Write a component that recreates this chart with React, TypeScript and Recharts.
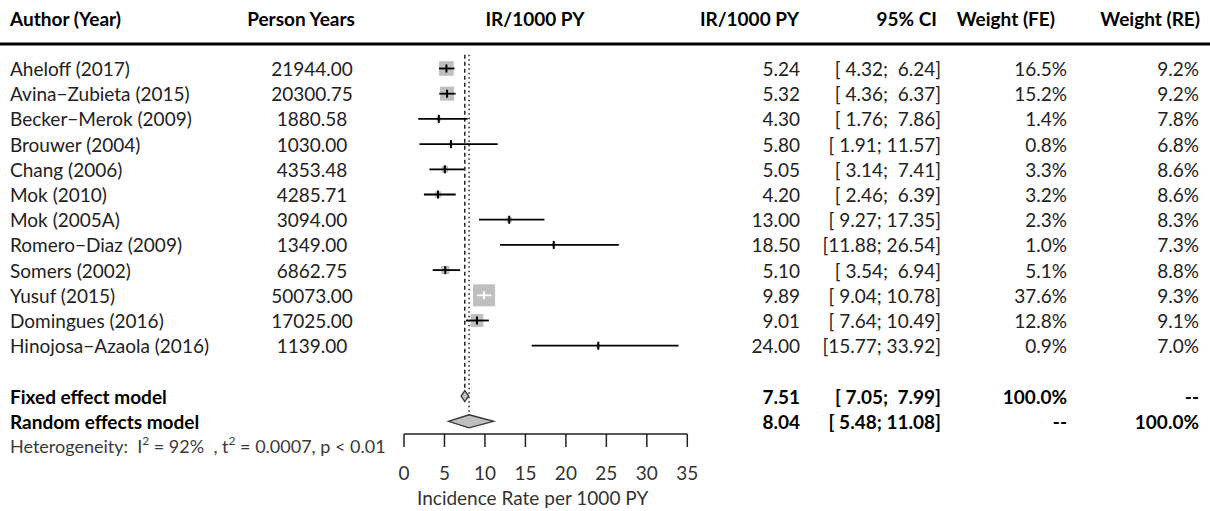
import React from 'react';
import {
  ComposedChart,
  Scatter,
  XAxis,
  YAxis,
  ReferenceLine,
  Customized
} from 'recharts';

// study table
const studies = [
  'Aheloff (2017)',
  'Avina\u2212Zubieta (2015)',
  'Becker\u2212Merok (2009)',
  'Brouwer (2004)',
  'Chang (2006)',
  'Mok (2010)',
  'Mok (2005A)',
  'Romero\u2212Diaz (2009)',
  'Somers (2002)',
  'Yusuf (2015)',
  'Domingues (2016)',
  'Hinojosa\u2212Azaola (2016)'
];
const personYears = [21944.0, 20300.75, 1880.58, 1030.0, 4353.48, 4285.71, 3094.0, 1349.0, 6862.75, 50073.0, 17025.0, 1139.0];
const rate = [5.24, 5.32, 4.3, 5.8, 5.05, 4.2, 13.0, 18.5, 5.1, 9.89, 9.01, 24.0];
const ciLow = [4.32, 4.36, 1.76, 1.91, 3.14, 2.46, 9.27, 11.88, 3.54, 9.04, 7.64, 15.77];
const ciHigh = [6.24, 6.37, 7.86, 11.57, 7.41, 6.39, 17.35, 26.54, 6.94, 10.78, 10.49, 33.92];
const weightFE = [16.5, 15.2, 1.4, 0.8, 3.3, 3.2, 2.3, 1.0, 5.1, 37.6, 12.8, 0.9];
const weightRE = [9.2, 9.2, 7.8, 6.8, 8.6, 8.6, 8.3, 7.3, 8.8, 9.3, 9.1, 7.0];

// pooled estimates
const modelNames = ['Fixed effect model', 'Random effects model'];
const modelRate = [7.51, 8.04];
const modelLow = [7.05, 5.48];
const modelHigh = [7.99, 11.08];
const modelWeightFE = ['100.0%', '--'];
const modelWeightRE = ['--', '100.0%'];

const heteroI2 = '92%';
const heteroTau2 = '0.0007';
const heteroP = '< 0.01';

const xTicks = [0, 5, 10, 15, 20, 25, 30, 35];
const xLabel = 'Incidence Rate per 1000 PY';
const headers = ['Author (Year)', 'Person Years', 'IR/1000 PY', 'IR/1000 PY', '95% CI', 'Weight (FE)', 'Weight (RE)'];

// layout
const FONT = 'Lato, "Open Sans", sans-serif';
const W = 1210;
const H = 511;
const PLOT_L = 404;
const PLOT_R = 687.3;
const PLOT_T = 44;
const PLOT_B = 434;
const ROW0 = 68.5;
const ROW_H = 25.2;
const X_MAX = 35;
const PX_PER_UNIT = (PLOT_R - PLOT_L) / X_MAX;
const FS = 19;
const HEAD = { study: 10, py: 301, ir2: 535, ir: 799, ci: 937, fe: 1055, re: 1200 };
const COL = { study: 10, py: 312, ir: 800, ci: 941, fe: 1067, re: 1199 };
const FIXED_ROW = 13;
const RANDOM_ROW = 14;

const boxSide = (w: number) => 3.6 * Math.sqrt(w);
const ciText = (lo: number, hi: number) =>
  `[${lo.toFixed(2).padStart(5, ' ')}; ${hi.toFixed(2).padStart(5, ' ')}]`;

const studyPoints = studies.map((name, i) => ({
  x: rate[i],
  y: i,
  w: weightFE[i],
  inside: (ciHigh[i] - ciLow[i]) * PX_PER_UNIT < boxSide(weightFE[i])
}));

const ciSegments = studies.map((name, i) => [
  { x: ciLow[i], y: i },
  { x: ciHigh[i], y: i }
]);

const tableRows = [
  ...studies.map((name, i) => ({
    x: rate[i],
    y: i,
    bold: false,
    cells: [name, personYears[i].toFixed(2), rate[i].toFixed(2), ciText(ciLow[i], ciHigh[i]), weightFE[i].toFixed(1) + '%', weightRE[i].toFixed(1) + '%']
  })),
  ...modelNames.map((name, k) => ({
    x: modelRate[k],
    y: k === 0 ? FIXED_ROW : RANDOM_ROW,
    bold: true,
    cells: [name, '', modelRate[k].toFixed(2), ciText(modelLow[k], modelHigh[k]), modelWeightFE[k], modelWeightRE[k]]
  }))
];

const diamondData = (k: number) => [
  { x: modelLow[k], y: k === 0 ? FIXED_ROW : RANDOM_ROW },
  { x: modelRate[k], y: k === 0 ? FIXED_ROW : RANDOM_ROW },
  { x: modelHigh[k], y: k === 0 ? FIXED_ROW : RANDOM_ROW }
];

const Empty = () => <g />;

const Box = (props: any) => {
  const { cx, cy, payload } = props;
  const s = boxSide(payload.w);
  return <rect x={cx - s / 2} y={cy - s / 2} width={s} height={s} fill="#bfbfbf" />;
};

const Tick = (color: string) => (props: any) => {
  const { cx, cy } = props;
  return <line x1={cx} x2={cx} y1={cy - 4} y2={cy + 4} stroke={color} strokeWidth={2} />;
};

const diamondLine = (half: number) => (p: any) => {
  const pts = p.points || [];
  if (pts.length < 3) return <g />;
  const [a, b, c] = pts;
  const d = `${a.x},${a.y} ${b.x},${b.y - half} ${c.x},${c.y} ${b.x},${b.y + half}`;
  return <polygon points={d} fill="#bfbfbf" stroke="#333" strokeWidth={1.3} />;
};

const T = (props: any) => <text xmlSpace="preserve" {...props} />;

const TableRow = (props: any) => {
  const { cy, payload } = props;
  const y = cy + 7.5;
  const c = payload.cells;
  return (
    <g
      fontFamily={FONT}
      fontSize={FS}
      fontWeight={payload.bold ? 700 : 400}
      fill={payload.bold ? '#000' : '#222'}
    >
      <T x={COL.study} y={y}>{c[0]}</T>
      <T x={COL.py} y={y} textAnchor="middle">{c[1]}</T>
      <T x={COL.ir} y={y} textAnchor="end">{c[2]}</T>
      <T x={COL.ci} y={y} textAnchor="end">{c[3]}</T>
      <T x={COL.fe} y={y} textAnchor="end">{c[4]}</T>
      <T x={COL.re} y={y} textAnchor="end">{c[5]}</T>
    </g>
  );
};

const StaticLayer = () => {
  const hy = 26;
  return (
    <g fontFamily={FONT} fontSize={FS} fontWeight={700} fill="#000">
      <T x={HEAD.study} y={hy}>{headers[0]}</T>
      <T x={HEAD.py} y={hy} textAnchor="middle">{headers[1]}</T>
      <T x={HEAD.ir2} y={hy} textAnchor="middle">{headers[2]}</T>
      <T x={HEAD.ir} y={hy} textAnchor="end">{headers[3]}</T>
      <T x={HEAD.ci} y={hy} textAnchor="end">{headers[4]}</T>
      <T x={HEAD.fe} y={hy} textAnchor="end">{headers[5]}</T>
      <T x={HEAD.re} y={hy} textAnchor="end">{headers[6]}</T>
      <line x1={0} x2={W} y1={PLOT_T} y2={PLOT_T} stroke="#000" strokeWidth={3} />
      <T x={HEAD.study} y={453} fontWeight={400} fontSize={18} fill="#3a3a3a">
        {'Heterogeneity:  I'}
        <tspan dy={-8} fontSize={12}>2</tspan>
        <tspan dy={8}>{` = ${heteroI2}  , t`}</tspan>
        <tspan dy={-8} fontSize={12}>2</tspan>
        <tspan dy={8}>{` = ${heteroTau2}, p ${heteroP}`}</tspan>
      </T>
    </g>
  );
};

const AxisTitle = (p: any) => {
  const vb = p.viewBox || { x: PLOT_L, y: PLOT_B, width: PLOT_R - PLOT_L, height: H - PLOT_B };
  return (
    <text
      x={vb.x + vb.width / 2 - 13}
      y={vb.y + vb.height - 6}
      textAnchor="middle"
      fontFamily={FONT}
      fontSize={FS}
      fill="#333"
    >
      {xLabel}
    </text>
  );
};

export default function App() {
  const yLo = (PLOT_T - ROW0) / ROW_H;
  const yHi = (PLOT_B - ROW0) / ROW_H;
  return (
    <div style={{ position: 'absolute', left: 0, top: 0, width: W, height: H, background: '#fff' }}>
      <ComposedChart
        width={W}
        height={H}
        margin={{ top: PLOT_T, right: W - PLOT_R, bottom: 0, left: PLOT_L }}
      >
        <XAxis
          type="number"
          dataKey="x"
          domain={[0, X_MAX]}
          ticks={xTicks}
          interval={0}
          height={H - PLOT_B}
          tickSize={13}
          tickMargin={20}
          axisLine={{ stroke: '#222', strokeWidth: 1.5 }}
          tickLine={{ stroke: '#222', strokeWidth: 1.5 }}
          tick={{ fill: '#333', fontSize: FS, fontFamily: FONT }}
          label={{ content: <AxisTitle /> }}
        />
        <YAxis type="number" dataKey="y" domain={[yLo, yHi]} reversed hide width={0} />
        <Customized component={<StaticLayer />} />
        <ReferenceLine
          segment={[{ x: modelRate[0], y: -0.55 }, { x: modelRate[0], y: 12.7 }]}
          stroke="#222"
          strokeWidth={1.5}
          strokeDasharray="4 3"
        />
        <ReferenceLine
          segment={[{ x: modelRate[1], y: -0.55 }, { x: modelRate[1], y: 13.72 }]}
          stroke="#222"
          strokeWidth={1.5}
          strokeDasharray="1.5 3"
        />
        <Scatter data={studyPoints} shape={<Box />} isAnimationActive={false} />
        {ciSegments.map((seg, i) => (
          <Scatter
            key={'ci' + i}
            data={seg}
            shape={<Empty />}
            line={{ stroke: studyPoints[i].inside ? '#fff' : '#000', strokeWidth: 1.8 }}
            isAnimationActive={false}
          />
        ))}
        <Scatter data={studyPoints.filter((p) => !p.inside)} shape={Tick('#000')} isAnimationActive={false} />
        <Scatter data={studyPoints.filter((p) => p.inside)} shape={Tick('#fff')} isAnimationActive={false} />
        <Scatter data={diamondData(0)} shape={<Empty />} line={diamondLine(5.5)} isAnimationActive={false} />
        <Scatter data={diamondData(1)} shape={<Empty />} line={diamondLine(6.5)} isAnimationActive={false} />
        <Scatter data={tableRows} shape={<TableRow />} isAnimationActive={false} />
      </ComposedChart>
    </div>
  );
}
